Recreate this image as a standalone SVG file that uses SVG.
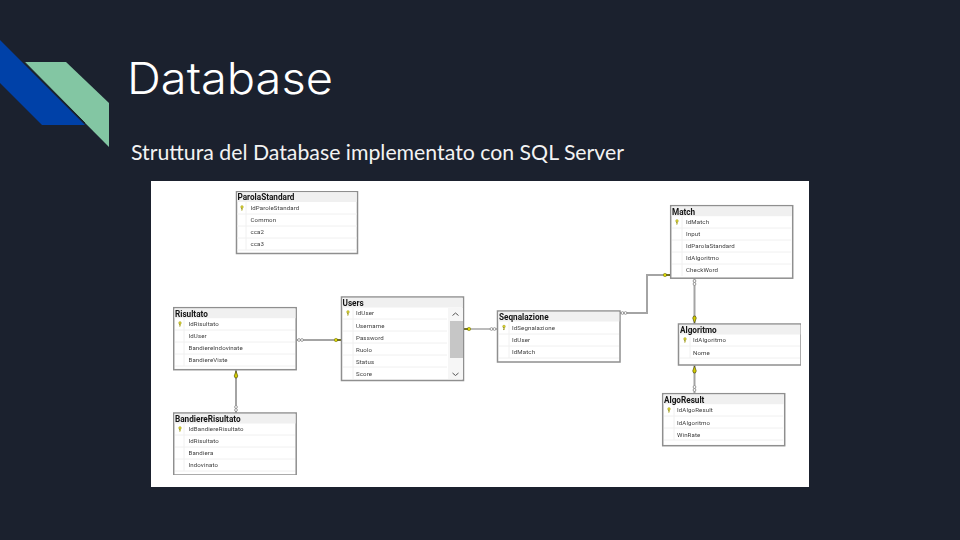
<svg xmlns="http://www.w3.org/2000/svg" width="960" height="540" viewBox="0 0 960 540">
<style>
.title{font:300 43.5px "Inter","Open Sans",sans-serif;fill:#fff}
.sub{font:400 21px "Lato",sans-serif;fill:#f3f3f3}
.box{fill:#fff;stroke:#8f8f8f;stroke-width:1.5}
.head{fill:#f0f0f0}
.sep{stroke:#f0f0f0;stroke-width:1;fill:none}
.name{font:700 8.2px "Roboto","Noto Sans",sans-serif;fill:#141414}
.f{font:400 6.100px "Roboto","Noto Sans",sans-serif;fill:#3c3c3c;letter-spacing:.12px}
.key{fill:#d8cf2a;stroke:#8a8a40;stroke-width:.3}
.line{fill:none;stroke:#a4a4a4;stroke-width:2}
.ring{fill:#fff;stroke:#6a6a6a;stroke-width:.6}
.dot{fill:#dcd800;stroke:#6b6b10;stroke-width:.5}
.arrow{fill:#d4cc00;stroke:#40400a;stroke-width:.6}
</style>
<defs>
<filter id="soft" x="0" y="0" width="1" height="1"><feGaussianBlur stdDeviation="0.35"/></filter>
<g id="k"><circle cx="0" cy="-1" r="1.400" class="key"/><rect x="-.5" y="0" width="1" height="2.400" class="key"/></g>
</defs>
<rect width="960" height="540" fill="#1b212e"/>
<g id="logo">
<polygon points="0,40 85,125 42,125 0,83" fill="#0041a8"/>
<polygon points="24.500,62 66,62 109,103 109,147" fill="#83c6a3"/>
<path d="M24.500 62 L85 123" stroke="#152029" stroke-width="1" fill="none"/>
</g>
<text class="title" x="127" y="94" textLength="206" lengthAdjust="spacingAndGlyphs">Database</text>
<text class="sub" x="131" y="160" textLength="493" lengthAdjust="spacingAndGlyphs">Struttura del Database implementato con SQL Server</text>
<rect x="151" y="181" width="658" height="306" fill="#fff"/>
<g filter="url(#soft)">
<g id="connectors">
<path class="line" d="M297 340H341"/>
<path class="line" d="M236 370V413"/>
<path class="line" d="M464 329H497" style="stroke-width:1.300"/>
<path class="line" d="M620 313H647V275H670"/>
<path class="line" d="M694.500 278V324"/>
<path class="line" d="M694.500 365V393"/>
<g>
<circle class="ring" cx="299" cy="340" r="1.400"/><circle class="ring" cx="302" cy="340" r="1.400"/>
<circle class="dot" cx="336" cy="340" r="1.700"/><path class="arrow" d="M337.500 339.500H341V340.500H337.500Z"/>
<circle class="ring" cx="236" cy="407" r="1.400"/><circle class="ring" cx="236" cy="410" r="1.400"/>
<polygon class="arrow" points="236,371 237.800,376 236.800,378 235.200,378 234.200,376"/>
<circle class="dot" cx="469" cy="329" r="1.700"/><path class="arrow" d="M464 328.500H467.500V329.500H464Z"/>
<circle class="ring" cx="491.500" cy="329" r="1.400"/><circle class="ring" cx="494.500" cy="329" r="1.400"/>
<circle class="ring" cx="622.500" cy="313" r="1.400"/><circle class="ring" cx="625.500" cy="313" r="1.400"/>
<circle class="dot" cx="665" cy="275" r="1.700"/><path class="arrow" d="M666.500 274.500H670V275.500H666.500Z"/>
<circle class="ring" cx="694.500" cy="281" r="1.400"/><circle class="ring" cx="694.500" cy="284" r="1.400"/>
<polygon class="arrow" points="694.500,323 692.700,318 693.700,316 695.300,316 696.300,318"/>
<polygon class="arrow" points="694.500,366 696.300,371 695.300,373 693.700,373 692.700,371"/>
<circle class="ring" cx="694.500" cy="387" r="1.400"/><circle class="ring" cx="694.500" cy="390" r="1.400"/>
</g>
</g>
<g id="ParolaStandard">
<rect class="box" x="236.500" y="191.500" width="121" height="62"/><rect class="head" x="237.300" y="192.300" width="119.400" height="9.700"/>
<text class="name" x="237.500" y="200.300">ParolaStandard</text>
<path class="sep" d="M237 214H357M237 226H357M237 238H357M237 250H357M246 202V250"/>
<use href="#k" x="242" y="208"/>
<text class="f" x="250.500" y="210">IdParoleStandard</text><text class="f" x="250.500" y="222">Common</text><text class="f" x="250.500" y="234">cca2</text><text class="f" x="250.500" y="246">cca3</text>
</g>
<g id="Risultato">
<rect class="box" x="173.700" y="307.700" width="122.500" height="62"/><rect class="head" x="174.500" y="308.500" width="121" height="9.700"/>
<text class="name" x="175" y="316.500">Risultato</text>
<path class="sep" d="M175 330H295M175 342H295M175 354H295M175 366H295M184 318V366"/>
<use href="#k" x="180" y="324"/>
<text class="f" x="188.500" y="326">IdRisultato</text><text class="f" x="188.500" y="338">IdUser</text><text class="f" x="188.500" y="350">BandiereIndovinate</text><text class="f" x="188.500" y="362">BandiereViste</text>
</g>
<g id="BandiereRisultato">
<rect class="box" x="173.700" y="413" width="122.500" height="62"/><rect class="head" x="174.500" y="413.800" width="121" height="9.700"/>
<text class="name" x="175" y="421.800">BandiereRisultato</text>
<path class="sep" d="M175 435H295M175 447H295M175 459H295M175 471H295M184 423V471"/>
<use href="#k" x="180" y="429"/>
<text class="f" x="188.500" y="431">IdBandiereRisultato</text><text class="f" x="188.500" y="443">IdRisultato</text><text class="f" x="188.500" y="455">Bandiera</text><text class="f" x="188.500" y="467">Indovinato</text>
</g>
<g id="Users">
<rect class="box" x="341.500" y="297" width="122" height="83.500"/><rect class="head" x="342.300" y="297.800" width="120.400" height="9.700"/>
<text class="name" x="342.500" y="305.500">Users</text>
<path class="sep" d="M343 319H447M343 331H447M343 343H447M343 355H447M343 367H447M353 308V379"/>
<use href="#k" x="348" y="313"/>
<text class="f" x="356" y="315">IdUser</text><text class="f" x="356" y="327.500">Username</text><text class="f" x="356" y="339.500">Password</text><text class="f" x="356" y="351.500">Ruolo</text><text class="f" x="356" y="363.500">Status</text><text class="f" x="356" y="375.500">Score</text>
<rect x="448" y="308" width="15" height="71" fill="#f6f6f6"/>
<rect x="450" y="321" width="13" height="37" fill="#c6c6c6"/>
<path d="M452.500 315.500L455.500 313L458.500 315.500M452.500 373L455.500 375.500L458.500 373" fill="none" stroke="#555" stroke-width="1"/>
</g>
<g id="Seqnalazione">
<rect class="box" x="497.500" y="311" width="122.500" height="51"/><rect class="head" x="498.300" y="311.800" width="121" height="9.700"/>
<text class="name" x="499" y="319.800">Seqnalazione</text>
<path class="sep" d="M499 334H619M499 346H619M499 358H619M509 322V358"/>
<use href="#k" x="504" y="327.500"/>
<text class="f" x="512" y="329.500">IdSegnalazione</text><text class="f" x="512" y="341.500">IdUser</text><text class="f" x="512" y="353.500">IdMatch</text>
</g>
<g id="Match">
<rect class="box" x="670.700" y="205.700" width="122" height="72.500"/><rect class="head" x="671.500" y="206.500" width="120.400" height="9.700"/>
<text class="name" x="672" y="214.500">Match</text>
<path class="sep" d="M672 228H791M672 240H791M672 252H791M672 264H791M682 216V276"/>
<use href="#k" x="677" y="222"/>
<text class="f" x="686" y="224">IdMatch</text><text class="f" x="686" y="236">Input</text><text class="f" x="686" y="248">IdParolaStandard</text><text class="f" x="686" y="260">IdAlgoritmo</text><text class="f" x="686" y="272">CheckWord</text>
</g>
<g id="Algoritmo">
<rect class="box" x="678.500" y="324" width="122.500" height="41"/><rect class="head" x="679.300" y="324.800" width="121" height="9.700"/>
<text class="name" x="680" y="332.800">Algoritmo</text>
<path class="sep" d="M680 346H800M680 358H800M690 335V358"/>
<use href="#k" x="685" y="340"/>
<text class="f" x="693" y="342">IdAlgoritmo</text><text class="f" x="693" y="354.500">Nome</text>
</g>
<g id="AlgoResult">
<rect class="box" x="662.700" y="393.700" width="122" height="52"/><rect class="head" x="663.500" y="394.500" width="120.400" height="9.700"/>
<text class="name" x="664" y="402.500">AlgoResult</text>
<path class="sep" d="M664 416H783M664 428H783M664 440H783M674 405V440"/>
<use href="#k" x="669" y="410"/>
<text class="f" x="677" y="412">IdAlgoResult</text><text class="f" x="677" y="424.500">IdAlgoritmo</text><text class="f" x="677" y="436.500">WinRate</text>
</g>
</g>
</svg>
